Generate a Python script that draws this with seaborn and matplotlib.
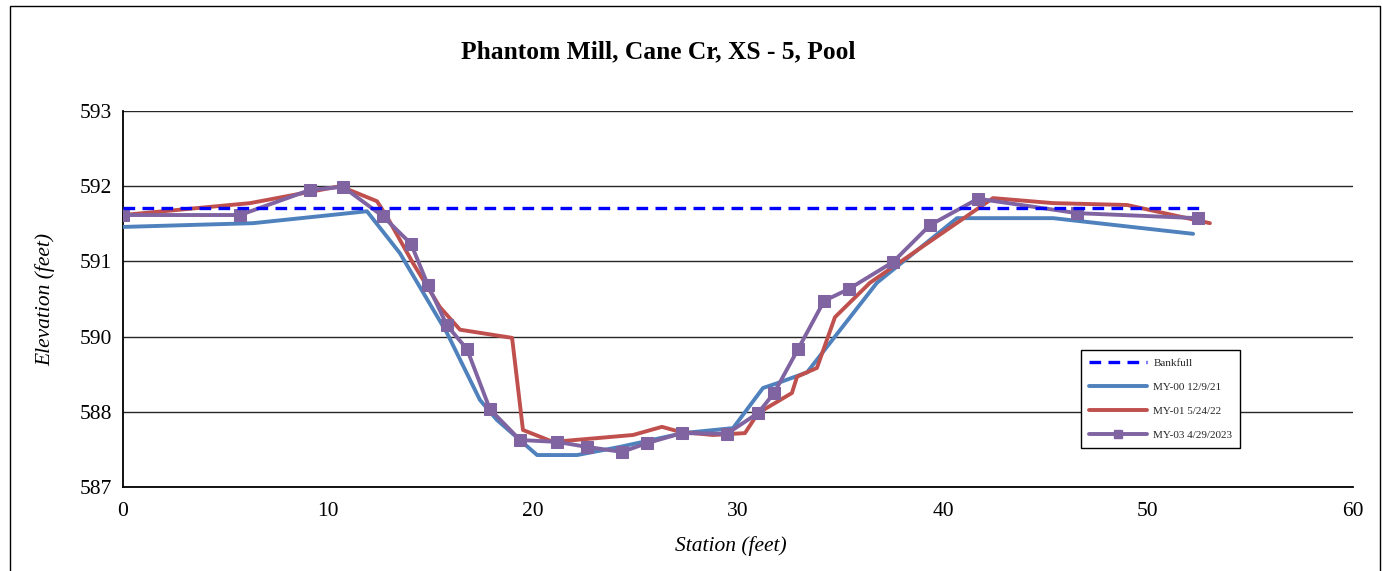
import matplotlib
matplotlib.use("Agg")
import matplotlib.pyplot as plt
from matplotlib.patches import Rectangle
from matplotlib.lines import Line2D
import seaborn as sns
import pandas as pd
import numpy as np

# ---- data ----
bankfull_x = [0.0, 52.5]
bankfull_y = [591.45, 591.45]

my00_x = [0.0, 6.34, 11.90, 13.51, 15.80, 17.41, 18.24, 20.20, 22.15, 24.24, 27.32,
          29.76, 31.22, 31.95, 33.37, 36.78, 40.68, 45.37, 52.20]
my00_y = [591.15, 591.21, 591.40, 590.73, 589.46, 588.39, 588.07, 587.51, 587.51, 587.64, 587.86,
          587.94, 588.58, 588.66, 588.83, 590.26, 591.29, 591.29, 591.04]

my01_x = [0.0, 6.20, 10.59, 12.39, 12.88, 14.15, 15.46, 16.44, 18.98, 19.51, 20.98, 23.12,
          24.88, 26.29, 27.17, 28.78, 30.34, 30.98, 32.63, 32.88, 33.85, 34.73, 36.44,
          42.44, 45.37, 48.98, 53.02]
my01_y = [591.34, 591.53, 591.80, 591.56, 591.31, 590.57, 589.87, 589.51, 589.38, 587.91, 587.72, 587.78,
          587.83, 587.96, 587.88, 587.83, 587.86, 588.18, 588.50, 588.76, 588.90, 589.71, 590.26,
          591.61, 591.53, 591.50, 591.21]

my03_x = [0.0, 5.71, 9.12, 10.73, 12.68, 14.05, 14.88, 15.80, 16.78, 17.90, 19.37, 21.17,
          22.63, 24.34, 25.56, 27.27, 29.46, 30.98, 31.76, 32.93, 34.20, 35.41, 37.56,
          39.37, 41.71, 46.54, 52.44]
my03_y = [591.34, 591.34, 591.74, 591.79, 591.32, 590.88, 590.22, 589.58, 589.20, 588.24, 587.75, 587.72,
          587.64, 587.56, 587.70, 587.86, 587.85, 588.18, 588.50, 589.20, 589.97, 590.16, 590.59,
          591.18, 591.60, 591.37, 591.29]

series_names = ["Bankfull", "MY-00 12/9/21", "MY-01 5/24/22", "MY-03 4/29/2023"]
y_tick_labels = ["587", "588", "590", "591", "592", "593"]
x_ticks = [0, 10, 20, 30, 40, 50, 60]

title = "Phantom Mill, Cane Cr, XS - 5, Pool"
xlabel = "Station (feet)"
ylabel = "Elevation (feet)"

# ---- style ----
sns.set_style("white")
plt.rcParams["font.family"] = ["Liberation Serif", "DejaVu Serif"]

fig = plt.figure(figsize=(13.83, 5.71), dpi=100)
ax = fig.add_axes([123/1383, 1-487/571, (1353-123)/1383, (487-111)/571])

blue = "#4F81BD"
red = "#C0504D"
purple = "#8064A2"

df_bf = pd.DataFrame({"x": bankfull_x, "y": bankfull_y})
df0 = pd.DataFrame({"x": my00_x, "y": my00_y})
df1 = pd.DataFrame({"x": my01_x, "y": my01_y})
df3 = pd.DataFrame({"x": my03_x, "y": my03_y})

sns.lineplot(data=df0, x="x", y="y", ax=ax, sort=False, estimator=None, color=blue,
             lw=2.8, zorder=3)
sns.lineplot(data=df1, x="x", y="y", ax=ax, sort=False, estimator=None, color=red,
             lw=2.8, zorder=4)
sns.lineplot(data=df3, x="x", y="y", ax=ax, sort=False, estimator=None, color=purple,
             lw=2.8, marker="s", markersize=8, markeredgecolor=purple, zorder=5)
sns.lineplot(data=df_bf, x="x", y="y", ax=ax, sort=False, estimator=None, color="#0000FF",
             lw=2.4, zorder=6)
ax.lines[-1].set_dashes([3.5, 2.2])

ax.set_xlim(0, 60)
ax.set_ylim(587, 593)
ax.set_xticks(x_ticks)
ax.set_xticks([5, 15, 25, 35, 45, 55], minor=True)
ax.set_yticks(np.linspace(587, 593, 6))
ax.set_yticklabels(y_tick_labels)
ax.tick_params(axis="both", which="major", labelsize=15.5, direction="inout", length=9,
               width=1, color="black", labelcolor="black")
ax.tick_params(axis="x", which="minor", direction="in", length=5, width=1, color="black")
ax.tick_params(axis="x", which="major", pad=6)
ax.grid(axis="y", color="black", lw=1, alpha=0.85)
ax.grid(axis="x", visible=False)
for s in ["top", "right"]:
    ax.spines[s].set_visible(False)
for s in ["left", "bottom"]:
    ax.spines[s].set_color("black")
    ax.spines[s].set_linewidth(1.3)
ax.set_xlabel("")
ax.set_ylabel("")

fig.text(658/1383, 1-52/571, title, ha="center", va="center", fontsize=18.4,
         fontweight="bold", color="black")
fig.text(731/1383, 1-546/571, xlabel, ha="center", va="center", fontsize=15.5,
         style="italic", color="black")
fig.text(45/1383, 1-300/571, ylabel, ha="center", va="center", fontsize=15.5,
         style="italic", rotation=90, color="black")

handles = [
    Line2D([], [], color="#0000FF", lw=2.4, dashes=[3.5, 2.2]),
    Line2D([], [], color=blue, lw=2.8),
    Line2D([], [], color=red, lw=2.8),
    Line2D([], [], color=purple, lw=2.8, marker="s", markersize=6),
]
leg = ax.legend(handles, series_names, loc="upper left",
                bbox_to_anchor=((1081-123)/1230, (487-350)/376), borderaxespad=0,
                fontsize=8, frameon=True, fancybox=False, edgecolor="black",
                framealpha=1, handlelength=5.2, labelspacing=1.3, borderpad=0.7,
                handletextpad=0.6)
leg.get_frame().set_linewidth(1)

fig.patches.append(Rectangle((10/1383, -0.01), (1380-10)/1383, 1-6/571+0.01,
                             transform=fig.transFigure, fill=False, edgecolor="black",
                             lw=1))

fig.savefig("out.png", dpi=100)
